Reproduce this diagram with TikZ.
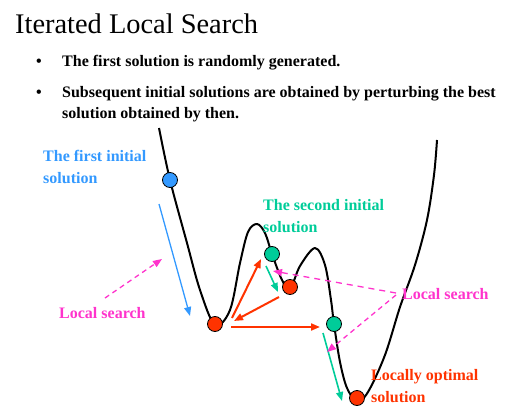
\documentclass[tikz,border=0pt]{standalone}
\usepackage{fontspec}
\setmainfont{Liberation Serif}[BoldFont={Liberation Serif Bold}]
\usetikzlibrary{arrows.meta}
\definecolor{cblue}{RGB}{51,153,255}
\definecolor{cred}{RGB}{255,51,0}
\definecolor{cgreen}{RGB}{0,204,153}
\definecolor{cpink}{RGB}{255,51,204}
\tikzset{
  dot/.style={circle,draw=black,line width=0.8pt,minimum size=15pt,inner sep=0pt},
  arr/.style={-{Triangle[length=9pt,width=7pt]}},
  lbl/.style={font=\rmfamily\fontsize{16}{22}\selectfont\bfseries,anchor=base west,align=left,inner sep=0pt},
  bul/.style={font=\rmfamily\fontsize{16}{21}\selectfont\bfseries,anchor=base west,inner sep=0pt},
}
\begin{document}
\begin{tikzpicture}[x=1pt,y=-1pt]
\useasboundingbox (0,0) rectangle (528,420);
% title and bullets
\node[font=\rmfamily\fontsize{28.4}{32}\selectfont,anchor=base west,inner sep=0pt] (title) at (15,34) {Iterated Local Search};
\node[bul] (b1) at (36,67) {\textbullet};
\node[bul] (t1) at (62,67) {The first solution is randomly generated.};
\node[bul] (b2) at (36,97.5) {\textbullet};
\node[bul] (t2) at (62,97.5) {Subsequent initial solutions are obtained by perturbing the best};
\node[bul] (t3) at (62,118.5) {solution obtained by then.};
% curve
\draw[line width=2pt,line join=round] plot[smooth,tension=0.55] coordinates {
 (159,128) (170,180) (187,243) (200,290) (215,325) (230,310) (240,263) (248,232) (257,224)
 (265,233) (272,254) (282,280) (290,289) (300,266) (315,248) (325,265) (331,300) (334,324)
 (340,362) (347,388) (357,401) (368,392) (385,355) (400,307) (415,265) (427,220) (434,175) (437,140)};
% dots
\node[dot,fill=cblue] (d0) at (170,180) {};
\node[dot,fill=cred] (r1) at (215,324) {};
\node[dot,fill=cgreen] (g1) at (272,254) {};
\node[dot,fill=cred] (r2) at (290,287) {};
\node[dot,fill=cgreen] (g2) at (334,324) {};
\node[dot,fill=cred] (r3) at (357,398) {};
% arrow end points
\coordinate (bA) at (159,204); \coordinate (bB) at (190,316);
\coordinate (pA) at (105,298); \coordinate (pB) at (162,259);
\coordinate (rA) at (232,318); \coordinate (rB) at (261,259);
\coordinate (rC) at (279,297); \coordinate (rD) at (234,321);
\coordinate (rE) at (231,327); \coordinate (rF) at (320,327);
\coordinate (gA) at (266,266); \coordinate (gB) at (278,292);
\coordinate (gC) at (323,333); \coordinate (gD) at (342,401);
\coordinate (qA) at (396,293); \coordinate (qB) at (273,271);
\coordinate (qC) at (396,295); \coordinate (qD) at (327,352);
% arrows
\draw[arr,cblue,line width=1.3pt] (bA) -- (bB);
\draw[arr,cpink,line width=1.3pt,dash pattern=on 5pt off 4pt] (pA) -- (pB);
\draw[arr,cred,line width=2pt] (rA) -- (rB);
\draw[arr,cred,line width=2pt] (rC) -- (rD);
\draw[arr,cred,line width=2pt] (rE) -- (rF);
\draw[arr,cgreen,line width=1.6pt] (gA) -- (gB);
\draw[arr,cgreen,line width=1.6pt] (gC) -- (gD);
\draw[arr,cpink,line width=1.3pt,dash pattern=on 6pt off 5pt] (qA) -- (qB);
\draw[arr,cpink,line width=1.3pt,dash pattern=on 5pt off 4pt] (qC) -- (qD);
% labels
\node[lbl,text=cblue] (l1) at (43,183) {The first initial\\solution};
\node[lbl,text=cpink] (l2) at (59,318) {Local search};
\node[lbl,text=cgreen] (l3) at (263,232) {The second initial\\solution};
\node[lbl,text=cpink] (l4) at (402,299) {Local search};
\node[lbl,text=cred] (l5) at (371,402) {Locally optimal\\solution};
\end{tikzpicture}
\end{document}
